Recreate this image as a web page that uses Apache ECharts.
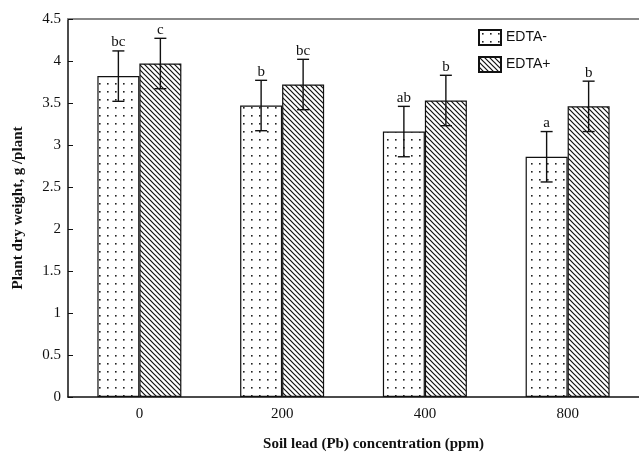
<!DOCTYPE html>
<html><head><meta charset="utf-8">
<script src="https://cdn.jsdelivr.net/npm/echarts@6/dist/echarts.min.js"></script>
<style>html,body{margin:0;padding:0;background:#fff}#c{width:639px;height:457px}</style>
</head><body><div id="c"></div>
<script>
var categories = ['0', '200', '400', '800'];
var edtaMinus = [3.82, 3.47, 3.16, 2.86];
var edtaPlus = [3.97, 3.72, 3.53, 3.46];
var errMinus = [0.30, 0.30, 0.30, 0.30];
var errPlus = [0.30, 0.30, 0.30, 0.30];
var lettersMinus = ['bc', 'b', 'ab', 'a'];
var lettersPlus = ['c', 'bc', 'b', 'b'];
var yTicks = [0, 0.5, 1, 1.5, 2, 2.5, 3, 3.5, 4, 4.5];

function dotPattern() {
  var s = 8;
  var c = document.createElement('canvas'); c.width = s; c.height = s;
  var g = c.getContext('2d');
  g.fillStyle = '#fff'; g.fillRect(0, 0, s, s);
  g.fillStyle = '#222'; g.fillRect(3, 3, 1.6, 1.6);
  return c;
}
function hatchPattern() {
  var s = 5;
  var c = document.createElement('canvas'); c.width = s; c.height = s;
  var g = c.getContext('2d');
  g.fillStyle = '#fff'; g.fillRect(0, 0, s, s);
  g.strokeStyle = '#111'; g.lineWidth = 1.2;
  g.beginPath();
  g.moveTo(-1, -1); g.lineTo(s + 1, s + 1);
  g.moveTo(-1, s - 1); g.lineTo(1, s + 1);
  g.moveTo(s - 1, -1); g.lineTo(s + 1, 1);
  g.stroke();
  return c;
}
var dotFill = {image: dotPattern(), repeat: 'repeat'};
var hatchFill = {image: hatchPattern(), repeat: 'repeat'};

function errData(vals, errs) {
  return vals.map(function (v, i) { return [i, v, errs[i]]; });
}
function errRender(offset, letters) {
  return function (params, api) {
    var i = api.value(0), v = api.value(1), e = api.value(2);
    var top = api.coord([i, v + e]);
    var bot = api.coord([i, v - e]);
    var x = top[0] + offset, hw = 6;
    var st = {stroke: '#111', lineWidth: 1.4};
    return {
      type: 'group',
      children: [
        {type: 'line', shape: {x1: x, y1: top[1], x2: x, y2: bot[1]}, style: st},
        {type: 'line', shape: {x1: x - hw, y1: top[1], x2: x + hw, y2: top[1]}, style: st},
        {type: 'line', shape: {x1: x - hw, y1: bot[1], x2: x + hw, y2: bot[1]}, style: st},
        {type: 'text', style: {text: letters[params.dataIndex], x: x, y: top[1] - 1, textAlign: 'center', textVerticalAlign: 'bottom',
          font: '15px "Liberation Serif"', fill: '#111'}}
      ]
    };
  };
}

var chart = echarts.init(document.getElementById('c'));
chart.setOption({
  animation: false,
  grid: {left: 68, right: -1, top: 19, bottom: 60},
  legend: {
    orient: 'vertical', left: 473, top: 24, itemWidth: 22, itemHeight: 15, itemGap: 10, icon: 'rect',
    textStyle: {fontFamily: 'Liberation Sans', fontSize: 14, color: '#111'},
    data: ['EDTA-', 'EDTA+']
  },
  xAxis: [{
    type: 'category', data: categories,
    axisLine: {lineStyle: {color: '#111', width: 1.5}},
    axisTick: {inside: true, length: 5, lineStyle: {color: '#111'}},
    axisLabel: {fontFamily: 'Liberation Serif', fontSize: 15, color: '#111', margin: 10},
    name: 'Soil lead (Pb) concentration (ppm)', nameLocation: 'middle', nameGap: 40,
    nameTextStyle: {fontFamily: 'Liberation Serif', fontWeight: 'bold', fontSize: 15, color: '#111', padding: [0, 0, 0, 40]}
  }, {
    type: 'category', data: categories, position: 'top',
    axisLine: {lineStyle: {color: '#888', width: 2}},
    axisTick: {show: false}, axisLabel: {show: false}
  }],
  yAxis: {
    type: 'value', min: 0, max: 4.5, interval: 0.5,
    splitLine: {show: false},
    axisLine: {show: true, lineStyle: {color: '#111', width: 1.5}},
    axisTick: {show: true, inside: true, length: 5, lineStyle: {color: '#111'}},
    axisLabel: {fontFamily: 'Liberation Serif', fontSize: 15, color: '#111', margin: 7,
      formatter: function (v) { return yTicks.indexOf(v) >= 0 ? String(v) : ''; }},
    name: 'Plant dry weight, g /plant', nameLocation: 'middle', nameGap: 42,
    nameTextStyle: {fontFamily: 'Liberation Serif', fontWeight: 'bold', fontSize: 15, color: '#111'}
  },
  series: [
    {name: 'EDTA-', type: 'bar', data: edtaMinus, barWidth: 42, barGap: '0%',
      itemStyle: {color: dotFill, borderColor: '#111', borderWidth: 1.2}},
    {name: 'EDTA+', type: 'bar', data: edtaPlus, barWidth: 42, barGap: '0%',
      itemStyle: {color: hatchFill, borderColor: '#111', borderWidth: 1.2}},
    {type: 'custom', data: errData(edtaMinus, errMinus), renderItem: errRender(-21, lettersMinus), z: 5},
    {type: 'custom', data: errData(edtaPlus, errPlus), renderItem: errRender(21, lettersPlus), z: 5}
  ]
});
</script></body></html>
